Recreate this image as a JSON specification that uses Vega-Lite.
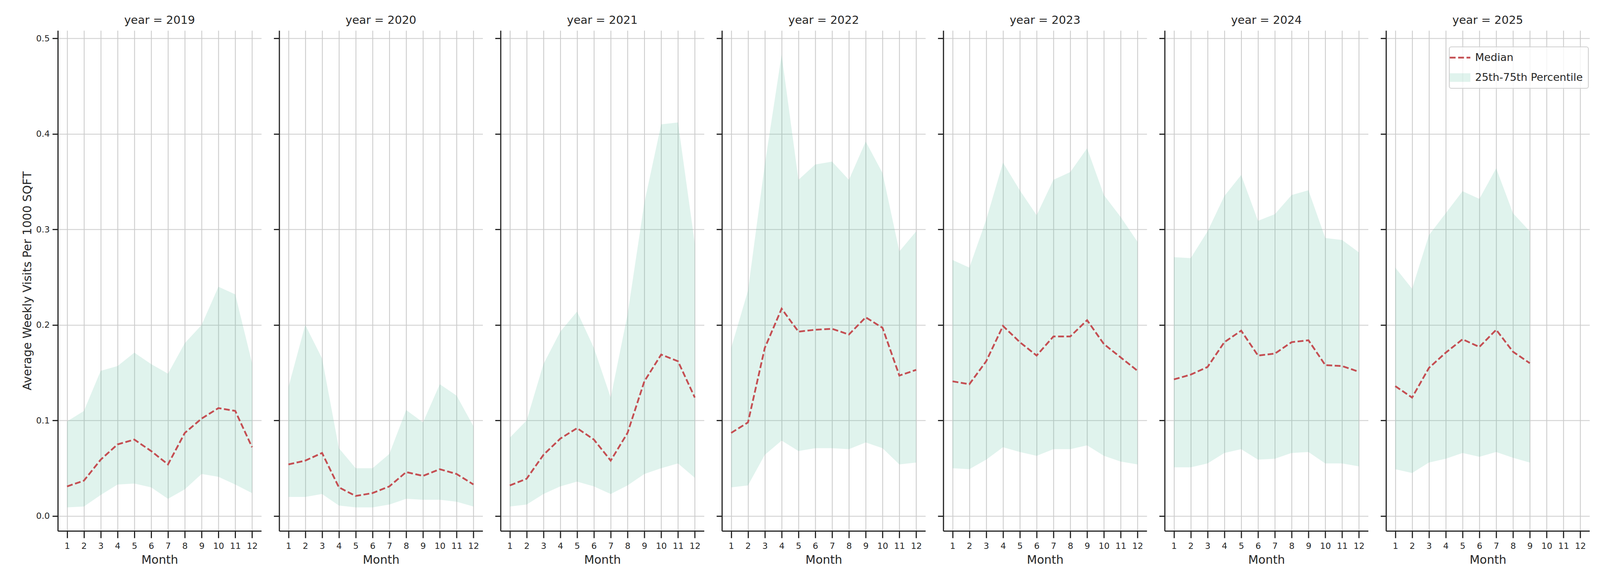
{
  "$schema": "https://vega.github.io/schema/vega-lite/v6.json",
  "background": "white",
  "padding": {"left": 55, "top": 38, "right": 4, "bottom": 4},
  "datasets": {
    "visits": [
      {"year": 2019, "month": 1, "p25": 0.009, "median": 0.031, "p75": 0.099},
      {"year": 2019, "month": 2, "p25": 0.010, "median": 0.037, "p75": 0.110},
      {"year": 2019, "month": 3, "p25": 0.022, "median": 0.059, "p75": 0.152},
      {"year": 2019, "month": 4, "p25": 0.033, "median": 0.075, "p75": 0.157},
      {"year": 2019, "month": 5, "p25": 0.034, "median": 0.080, "p75": 0.171},
      {"year": 2019, "month": 6, "p25": 0.030, "median": 0.068, "p75": 0.159},
      {"year": 2019, "month": 7, "p25": 0.018, "median": 0.054, "p75": 0.149},
      {"year": 2019, "month": 8, "p25": 0.028, "median": 0.087, "p75": 0.181},
      {"year": 2019, "month": 9, "p25": 0.044, "median": 0.102, "p75": 0.200},
      {"year": 2019, "month": 10, "p25": 0.041, "median": 0.113, "p75": 0.240},
      {"year": 2019, "month": 11, "p25": 0.033, "median": 0.110, "p75": 0.232},
      {"year": 2019, "month": 12, "p25": 0.024, "median": 0.072, "p75": 0.160},
      {"year": 2020, "month": 1, "p25": 0.020, "median": 0.054, "p75": 0.135},
      {"year": 2020, "month": 2, "p25": 0.020, "median": 0.058, "p75": 0.200},
      {"year": 2020, "month": 3, "p25": 0.023, "median": 0.066, "p75": 0.165},
      {"year": 2020, "month": 4, "p25": 0.011, "median": 0.030, "p75": 0.071},
      {"year": 2020, "month": 5, "p25": 0.009, "median": 0.021, "p75": 0.050},
      {"year": 2020, "month": 6, "p25": 0.009, "median": 0.024, "p75": 0.050},
      {"year": 2020, "month": 7, "p25": 0.012, "median": 0.031, "p75": 0.065},
      {"year": 2020, "month": 8, "p25": 0.018, "median": 0.046, "p75": 0.111},
      {"year": 2020, "month": 9, "p25": 0.017, "median": 0.042, "p75": 0.098},
      {"year": 2020, "month": 10, "p25": 0.017, "median": 0.049, "p75": 0.138},
      {"year": 2020, "month": 11, "p25": 0.015, "median": 0.044, "p75": 0.126},
      {"year": 2020, "month": 12, "p25": 0.010, "median": 0.033, "p75": 0.094},
      {"year": 2021, "month": 1, "p25": 0.010, "median": 0.032, "p75": 0.082},
      {"year": 2021, "month": 2, "p25": 0.012, "median": 0.039, "p75": 0.100},
      {"year": 2021, "month": 3, "p25": 0.023, "median": 0.064, "p75": 0.159},
      {"year": 2021, "month": 4, "p25": 0.031, "median": 0.081, "p75": 0.193},
      {"year": 2021, "month": 5, "p25": 0.036, "median": 0.092, "p75": 0.214},
      {"year": 2021, "month": 6, "p25": 0.031, "median": 0.080, "p75": 0.176},
      {"year": 2021, "month": 7, "p25": 0.023, "median": 0.058, "p75": 0.124},
      {"year": 2021, "month": 8, "p25": 0.032, "median": 0.087, "p75": 0.211},
      {"year": 2021, "month": 9, "p25": 0.044, "median": 0.141, "p75": 0.328},
      {"year": 2021, "month": 10, "p25": 0.050, "median": 0.169, "p75": 0.410},
      {"year": 2021, "month": 11, "p25": 0.055, "median": 0.162, "p75": 0.412},
      {"year": 2021, "month": 12, "p25": 0.040, "median": 0.124, "p75": 0.285},
      {"year": 2022, "month": 1, "p25": 0.030, "median": 0.087, "p75": 0.176},
      {"year": 2022, "month": 2, "p25": 0.032, "median": 0.098, "p75": 0.236},
      {"year": 2022, "month": 3, "p25": 0.064, "median": 0.176, "p75": 0.368},
      {"year": 2022, "month": 4, "p25": 0.079, "median": 0.217, "p75": 0.483},
      {"year": 2022, "month": 5, "p25": 0.068, "median": 0.193, "p75": 0.352},
      {"year": 2022, "month": 6, "p25": 0.071, "median": 0.195, "p75": 0.368},
      {"year": 2022, "month": 7, "p25": 0.071, "median": 0.196, "p75": 0.371},
      {"year": 2022, "month": 8, "p25": 0.070, "median": 0.190, "p75": 0.352},
      {"year": 2022, "month": 9, "p25": 0.077, "median": 0.208, "p75": 0.392},
      {"year": 2022, "month": 10, "p25": 0.071, "median": 0.197, "p75": 0.359},
      {"year": 2022, "month": 11, "p25": 0.054, "median": 0.147, "p75": 0.277},
      {"year": 2022, "month": 12, "p25": 0.056, "median": 0.153, "p75": 0.298},
      {"year": 2023, "month": 1, "p25": 0.050, "median": 0.141, "p75": 0.268},
      {"year": 2023, "month": 2, "p25": 0.049, "median": 0.138, "p75": 0.260},
      {"year": 2023, "month": 3, "p25": 0.059, "median": 0.162, "p75": 0.310},
      {"year": 2023, "month": 4, "p25": 0.072, "median": 0.199, "p75": 0.370},
      {"year": 2023, "month": 5, "p25": 0.067, "median": 0.182, "p75": 0.341},
      {"year": 2023, "month": 6, "p25": 0.063, "median": 0.168, "p75": 0.315},
      {"year": 2023, "month": 7, "p25": 0.070, "median": 0.188, "p75": 0.352},
      {"year": 2023, "month": 8, "p25": 0.070, "median": 0.188, "p75": 0.360},
      {"year": 2023, "month": 9, "p25": 0.074, "median": 0.205, "p75": 0.385},
      {"year": 2023, "month": 10, "p25": 0.063, "median": 0.180, "p75": 0.336},
      {"year": 2023, "month": 11, "p25": 0.057, "median": 0.166, "p75": 0.313},
      {"year": 2023, "month": 12, "p25": 0.054, "median": 0.152, "p75": 0.287},
      {"year": 2024, "month": 1, "p25": 0.051, "median": 0.143, "p75": 0.271},
      {"year": 2024, "month": 2, "p25": 0.051, "median": 0.148, "p75": 0.270},
      {"year": 2024, "month": 3, "p25": 0.055, "median": 0.156, "p75": 0.298},
      {"year": 2024, "month": 4, "p25": 0.066, "median": 0.182, "p75": 0.335},
      {"year": 2024, "month": 5, "p25": 0.070, "median": 0.194, "p75": 0.357},
      {"year": 2024, "month": 6, "p25": 0.059, "median": 0.168, "p75": 0.309},
      {"year": 2024, "month": 7, "p25": 0.060, "median": 0.170, "p75": 0.316},
      {"year": 2024, "month": 8, "p25": 0.066, "median": 0.182, "p75": 0.336},
      {"year": 2024, "month": 9, "p25": 0.067, "median": 0.184, "p75": 0.341},
      {"year": 2024, "month": 10, "p25": 0.055, "median": 0.158, "p75": 0.291},
      {"year": 2024, "month": 11, "p25": 0.055, "median": 0.157, "p75": 0.289},
      {"year": 2024, "month": 12, "p25": 0.052, "median": 0.151, "p75": 0.276},
      {"year": 2025, "month": 1, "p25": 0.049, "median": 0.136, "p75": 0.260},
      {"year": 2025, "month": 2, "p25": 0.045, "median": 0.124, "p75": 0.238},
      {"year": 2025, "month": 3, "p25": 0.056, "median": 0.155, "p75": 0.294},
      {"year": 2025, "month": 4, "p25": 0.060, "median": 0.171, "p75": 0.317},
      {"year": 2025, "month": 5, "p25": 0.066, "median": 0.185, "p75": 0.340},
      {"year": 2025, "month": 6, "p25": 0.062, "median": 0.177, "p75": 0.332},
      {"year": 2025, "month": 7, "p25": 0.067, "median": 0.195, "p75": 0.364},
      {"year": 2025, "month": 8, "p25": 0.061, "median": 0.172, "p75": 0.317},
      {"year": 2025, "month": 9, "p25": 0.056, "median": 0.160, "p75": 0.298}
    ]
  },
  "config": {
    "font": "DejaVu Sans",
    "view": {"stroke": null},
    "axis": {
      "domainColor": "#262626",
      "domainWidth": 3,
      "tickColor": "#262626",
      "tickWidth": 3,
      "gridColor": "#cccccc",
      "gridWidth": 2.2,
      "labelColor": "#262626",
      "labelFontSize": 22,
      "labelFont": "DejaVu Sans",
      "titleColor": "#262626",
      "titleFontSize": 30,
      "titleFont": "DejaVu Sans",
      "titleFontWeight": "normal"
    },
    "axisX": {"tickSize": 18, "labelPadding": 10, "titlePadding": 10, "labelAngle": 0},
    "axisY": {"tickSize": 14, "labelPadding": 7, "titlePadding": 7},
    "title": {
      "font": "DejaVu Sans",
      "fontSize": 29,
      "fontWeight": "normal",
      "color": "#262626",
      "anchor": "middle",
      "baseline": "alphabetic",
      "offset": 11
    }
  },
  "spacing": 45.7,
  "bounds": "flush",
  "resolve": {"scale": {"color": "independent"}, "legend": {"color": "independent"}},
  "hconcat": [
    {
      "title": "year = 2019",
      "width": 521, "height": 1281,
      "data": {"name": "visits"},
      "transform": [{"filter": "datum.year == 2019"}],
      "encoding": {
        "x": {"field": "month", "type": "quantitative", "title": "Month",
              "scale": {"domain": [0.45, 12.55], "nice": false, "zero": false},
              "axis": {"values": [1,2,3,4,5,6,7,8,9,10,11,12], "format": "d"}}
      },
      "layer": [
        {"mark": {"type": "area", "color": "#66c2a5", "opacity": 0.2},
         "encoding": {
           "y": {"field": "p75", "type": "quantitative", "title": "Average Weekly Visits Per 1000 SQFT",
                 "scale": {"domain": [-0.0156, 0.5083], "nice": false, "zero": false},
                 "axis": {"values": [0, 0.1, 0.2, 0.3, 0.4, 0.5], "format": ".1f"}},
           "y2": {"field": "p25"}}},
        {"mark": {"type": "line", "color": "#c44e52", "strokeWidth": 4.5, "strokeDash": [15, 6.5]},
         "encoding": {"y": {"field": "median", "type": "quantitative"}}}
      ]
    },
    {
      "title": "year = 2020",
      "width": 521, "height": 1281,
      "data": {"name": "visits"},
      "transform": [{"filter": "datum.year == 2020"}],
      "encoding": {
        "x": {"field": "month", "type": "quantitative", "title": "Month",
              "scale": {"domain": [0.45, 12.55], "nice": false, "zero": false},
              "axis": {"values": [1,2,3,4,5,6,7,8,9,10,11,12], "format": "d"}}
      },
      "layer": [
        {"mark": {"type": "area", "color": "#66c2a5", "opacity": 0.2},
         "encoding": {
           "y": {"field": "p75", "type": "quantitative", "title": null,
                 "scale": {"domain": [-0.0156, 0.5083], "nice": false, "zero": false},
                 "axis": {"values": [0, 0.1, 0.2, 0.3, 0.4, 0.5], "labels": false}},
           "y2": {"field": "p25"}}},
        {"mark": {"type": "line", "color": "#c44e52", "strokeWidth": 4.5, "strokeDash": [15, 6.5]},
         "encoding": {"y": {"field": "median", "type": "quantitative"}}}
      ]
    },
    {
      "title": "year = 2021",
      "width": 521, "height": 1281,
      "data": {"name": "visits"},
      "transform": [{"filter": "datum.year == 2021"}],
      "encoding": {
        "x": {"field": "month", "type": "quantitative", "title": "Month",
              "scale": {"domain": [0.45, 12.55], "nice": false, "zero": false},
              "axis": {"values": [1,2,3,4,5,6,7,8,9,10,11,12], "format": "d"}}
      },
      "layer": [
        {"mark": {"type": "area", "color": "#66c2a5", "opacity": 0.2},
         "encoding": {
           "y": {"field": "p75", "type": "quantitative", "title": null,
                 "scale": {"domain": [-0.0156, 0.5083], "nice": false, "zero": false},
                 "axis": {"values": [0, 0.1, 0.2, 0.3, 0.4, 0.5], "labels": false}},
           "y2": {"field": "p25"}}},
        {"mark": {"type": "line", "color": "#c44e52", "strokeWidth": 4.5, "strokeDash": [15, 6.5]},
         "encoding": {"y": {"field": "median", "type": "quantitative"}}}
      ]
    },
    {
      "title": "year = 2022",
      "width": 521, "height": 1281,
      "data": {"name": "visits"},
      "transform": [{"filter": "datum.year == 2022"}],
      "encoding": {
        "x": {"field": "month", "type": "quantitative", "title": "Month",
              "scale": {"domain": [0.45, 12.55], "nice": false, "zero": false},
              "axis": {"values": [1,2,3,4,5,6,7,8,9,10,11,12], "format": "d"}}
      },
      "layer": [
        {"mark": {"type": "area", "color": "#66c2a5", "opacity": 0.2},
         "encoding": {
           "y": {"field": "p75", "type": "quantitative", "title": null,
                 "scale": {"domain": [-0.0156, 0.5083], "nice": false, "zero": false},
                 "axis": {"values": [0, 0.1, 0.2, 0.3, 0.4, 0.5], "labels": false}},
           "y2": {"field": "p25"}}},
        {"mark": {"type": "line", "color": "#c44e52", "strokeWidth": 4.5, "strokeDash": [15, 6.5]},
         "encoding": {"y": {"field": "median", "type": "quantitative"}}}
      ]
    },
    {
      "title": "year = 2023",
      "width": 521, "height": 1281,
      "data": {"name": "visits"},
      "transform": [{"filter": "datum.year == 2023"}],
      "encoding": {
        "x": {"field": "month", "type": "quantitative", "title": "Month",
              "scale": {"domain": [0.45, 12.55], "nice": false, "zero": false},
              "axis": {"values": [1,2,3,4,5,6,7,8,9,10,11,12], "format": "d"}}
      },
      "layer": [
        {"mark": {"type": "area", "color": "#66c2a5", "opacity": 0.2},
         "encoding": {
           "y": {"field": "p75", "type": "quantitative", "title": null,
                 "scale": {"domain": [-0.0156, 0.5083], "nice": false, "zero": false},
                 "axis": {"values": [0, 0.1, 0.2, 0.3, 0.4, 0.5], "labels": false}},
           "y2": {"field": "p25"}}},
        {"mark": {"type": "line", "color": "#c44e52", "strokeWidth": 4.5, "strokeDash": [15, 6.5]},
         "encoding": {"y": {"field": "median", "type": "quantitative"}}}
      ]
    },
    {
      "title": "year = 2024",
      "width": 521, "height": 1281,
      "data": {"name": "visits"},
      "transform": [{"filter": "datum.year == 2024"}],
      "encoding": {
        "x": {"field": "month", "type": "quantitative", "title": "Month",
              "scale": {"domain": [0.45, 12.55], "nice": false, "zero": false},
              "axis": {"values": [1,2,3,4,5,6,7,8,9,10,11,12], "format": "d"}}
      },
      "layer": [
        {"mark": {"type": "area", "color": "#66c2a5", "opacity": 0.2},
         "encoding": {
           "y": {"field": "p75", "type": "quantitative", "title": null,
                 "scale": {"domain": [-0.0156, 0.5083], "nice": false, "zero": false},
                 "axis": {"values": [0, 0.1, 0.2, 0.3, 0.4, 0.5], "labels": false}},
           "y2": {"field": "p25"}}},
        {"mark": {"type": "line", "color": "#c44e52", "strokeWidth": 4.5, "strokeDash": [15, 6.5]},
         "encoding": {"y": {"field": "median", "type": "quantitative"}}}
      ]
    },
    {
      "title": "year = 2025",
      "width": 521, "height": 1281,
      "data": {"name": "visits"},
      "transform": [{"filter": "datum.year == 2025"}],
      "encoding": {
        "x": {"field": "month", "type": "quantitative", "title": "Month",
              "scale": {"domain": [0.45, 12.55], "nice": false, "zero": false},
              "axis": {"values": [1,2,3,4,5,6,7,8,9,10,11,12], "format": "d"}}
      },
      "layer": [
        {"mark": {"type": "area", "opacity": 0.2},
         "encoding": {
           "y": {"field": "p75", "type": "quantitative", "title": null,
                 "scale": {"domain": [-0.0156, 0.5083], "nice": false, "zero": false},
                 "axis": {"values": [0, 0.1, 0.2, 0.3, 0.4, 0.5], "labels": false}},
           "y2": {"field": "p25"},
           "color": {"datum": "25th-75th Percentile", "type": "nominal"}}},
        {"mark": {"type": "line", "strokeWidth": 4.5, "strokeDash": [15, 6.5]},
         "encoding": {
           "y": {"field": "median", "type": "quantitative"},
           "color": {"datum": "Median", "type": "nominal",
             "scale": {"domain": ["Median", "25th-75th Percentile"], "range": ["#c44e52", "#66c2a5"]},
             "legend": {
               "title": null,
               "orient": "none",
               "legendX": 162,
               "legendY": 42,
               "padding": 14,
               "cornerRadius": 5,
               "strokeColor": "#d0d0d0",
               "fillColor": "rgba(255,255,255,0.8)",
               "labelFontSize": 27,
               "labelColor": "#262626",
               "labelFont": "DejaVu Sans",
               "labelLimit": 0,
               "labelOffset": 25,
               "rowPadding": 23,
               "symbolSize": 1936,
               "symbolStrokeWidth": 4.5,
               "encode": {
                 "legend": {"update": {"strokeWidth": {"value": 2.2}}},
                 "symbols": {
                   "update": {
                     "shape": {"signal": "datum.value === 'Median' ? 'M-1.2,0H1.2' : 'M-1.2,-0.5H1.2V0.5H-1.2Z'"},
                     "fill": {"signal": "datum.value === 'Median' ? 'transparent' : '#66c2a5'"},
                     "fillOpacity": {"signal": "datum.value === 'Median' ? 0 : 0.2"},
                     "stroke": {"signal": "datum.value === 'Median' ? '#c44e52' : 'transparent'"},
                     "strokeOpacity": {"signal": "datum.value === 'Median' ? 1 : 0"},
                     "strokeDash": {"signal": "datum.value === 'Median' ? [15, 6.5] : [1, 0]"},
                     "strokeWidth": {"signal": "datum.value === 'Median' ? 4.5 : 0"},
                     "opacity": {"value": 1}
                   }
                 }
               }
             }}}}
      ]
    }
  ]
}
